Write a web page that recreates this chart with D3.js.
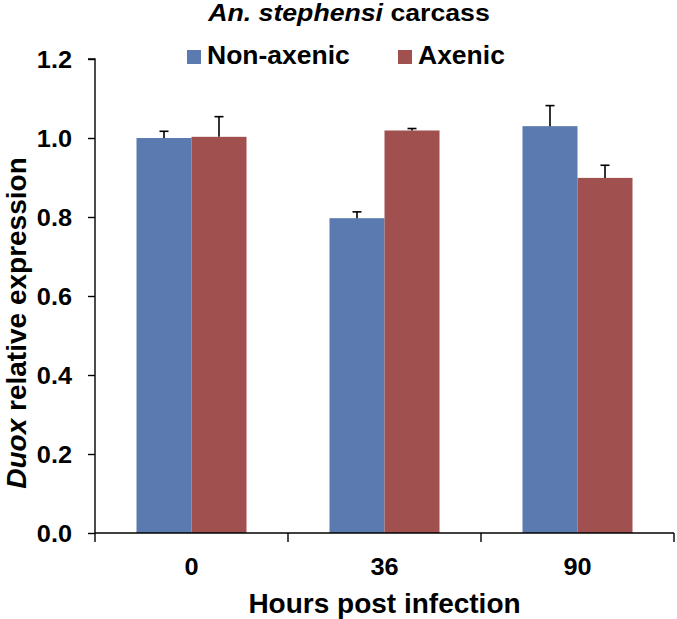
<!DOCTYPE html>
<html>
<head>
<meta charset="utf-8">
<script src="https://cdn.jsdelivr.net/npm/d3@7"></script>
<style>
  html, body { margin: 0; padding: 0; background: #fff; }
  text { font-family: "Liberation Sans", Arial, sans-serif; font-weight: bold; fill: #000; }
</style>
</head>
<body>
<svg id="chart" width="677" height="619"></svg>
<script>
const categories = ["0", "36", "90"];
const seriesNames = ["Non-axenic", "Axenic"];
const nonAxenic = [1.000, 0.797, 1.030];
const axenic = [1.003, 1.019, 0.899];
const nonAxenicErr = [0.017, 0.016, 0.052];
const axenicErr = [0.051, 0.005, 0.032];
const yTicks = [0, 0.2, 0.4, 0.6, 0.8, 1.0, 1.2];
const colors = ["#5B7BB0", "#A0504E"];

const values = [nonAxenic, axenic];
const errs = [nonAxenicErr, axenicErr];

const svg = d3.select("#chart");
const mLeft = 95, mRight = 674, mTop = 59, mBottom = 533;
const FONT = "Liberation Sans, Arial, sans-serif";

const y = d3.scaleLinear().domain([0, 1.2]).range([mBottom, mTop]);
const x = d3.scaleBand().domain(categories).range([mLeft, mRight])
  .paddingInner(0.43).paddingOuter(0.215);
const xs = d3.scaleBand().domain(seriesNames).range([0, x.bandwidth()]);

// bars
seriesNames.forEach((s, si) => {
  svg.append("g").selectAll("rect").data(categories).join("rect")
    .attr("x", c => x(c) + xs(s))
    .attr("y", (c, i) => y(values[si][i]))
    .attr("width", xs.bandwidth())
    .attr("height", (c, i) => y(0) - y(values[si][i]))
    .attr("fill", colors[si]);
});
seriesNames.forEach((s, si) => {
  const g = svg.append("g").attr("stroke", "#000").attr("stroke-width", 1.6);
  categories.forEach((c, i) => {
    const cx = x(c) + xs(s) + xs.bandwidth() / 2;
    const y1 = y(values[si][i]), y2 = y(values[si][i] + errs[si][i]);
    g.append("line").attr("x1", cx).attr("x2", cx).attr("y1", y1).attr("y2", y2);
    g.append("line").attr("x1", cx - 4.5).attr("x2", cx + 4.5).attr("y1", y2).attr("y2", y2);
  });
});

// y axis
const yAxis = d3.axisLeft(y).tickValues(yTicks).tickFormat(d3.format(".1f"))
  .tickSize(7).tickPadding(15);
const gy = svg.append("g").attr("transform", `translate(${mLeft},0)`).call(yAxis);
gy.select(".domain").attr("stroke", "#000").attr("stroke-width", 1.4)
  .attr("d", `M-7,${mTop}H0V${mBottom}`);
gy.selectAll(".tick line").attr("stroke", "#000").attr("stroke-width", 1.4);
gy.selectAll(".tick text")
  .attr("x", 0).attr("dy", null).attr("y", 8)
  .attr("transform", "translate(-23,0) scale(1.1,1)")
  .style("font-size", "23px").style("font-family", FONT).style("font-weight", "bold");

// x axis
const xAxis = d3.axisBottom(x).tickSize(0).tickPadding(0);
const gx = svg.append("g").attr("transform", `translate(0,${mBottom})`).call(xAxis);
gx.select(".domain").attr("stroke", "#000").attr("stroke-width", 1.4)
  .attr("d", `M${mLeft},0H${mRight}`);
gx.selectAll(".tick text")
  .attr("y", 0).attr("dy", null)
  .attr("transform", "translate(0,42) scale(1.1,1)")
  .style("font-size", "23px").style("font-family", FONT).style("font-weight", "bold");
// boundary ticks
const bounds = d3.range(categories.length + 1).map(i => mLeft + i * x.step());
gx.selectAll(".bt").data(bounds).join("line").attr("class", "bt")
  .attr("x1", d => d).attr("x2", d => d).attr("y1", 0).attr("y2", 9)
  .attr("stroke", "#000").attr("stroke-width", 1.4);

// title
const t = svg.append("text").attr("transform", "translate(349,21) scale(1.16,1)")
  .attr("text-anchor", "middle").style("font-size", "23px");
t.append("tspan").style("font-style", "italic").text("An. stephensi");
t.append("tspan").text(" carcass");

// legend
const legX = [187, 398];
seriesNames.forEach((s, i) => {
  svg.append("rect").attr("x", legX[i]).attr("y", 50).attr("width", 14).attr("height", 14).attr("fill", colors[i]);
  svg.append("text").attr("transform", `translate(${legX[i] + 20},64) scale(1.06,1)`)
    .style("font-size", "25px").text(s);
});

// axis titles
svg.append("text").attr("x", (mLeft + mRight) / 2).attr("y", 613).attr("text-anchor", "middle")
  .style("font-size", "28px").text("Hours post infection");
const yt = svg.append("text").attr("transform", `translate(26,323) rotate(-90)`)
  .attr("text-anchor", "middle").style("font-size", "28px");
yt.append("tspan").style("font-style", "italic").text("Duox");
yt.append("tspan").text(" relative expression");
</script>
</body>
</html>
